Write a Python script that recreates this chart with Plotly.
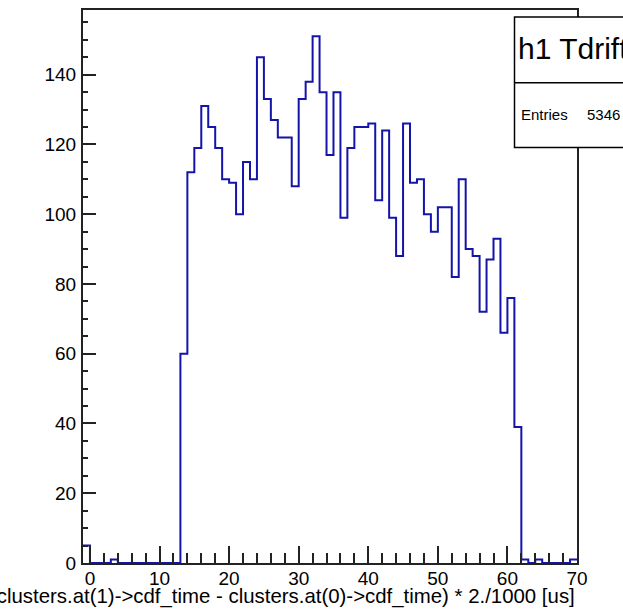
import plotly.graph_objects as go

# Histogram "h1 Tdrift": 71 bins of width 1 from -1 to 70 [us]
bin_low_edge = -1
bin_width = 1
counts = [
    5,                                   # [-1, 0)
    0, 0, 0, 1, 0, 0, 0, 0, 0, 0, 0, 0, 0,   # 0 .. 12
    60, 112, 119, 131, 125, 119, 110, 109, 100, 115,   # 13 .. 22
    110, 145, 133, 127, 122, 122, 108, 133, 138, 151,  # 23 .. 32
    135, 117, 135, 99, 119, 125, 125, 126, 104, 124,   # 33 .. 42
    99, 88, 126, 109, 110, 100, 95, 102, 102, 82,      # 43 .. 52
    110, 90, 88, 72, 87, 93, 66, 76, 39, 1,            # 53 .. 62
    0, 1, 0, 0, 0, 0, 1,                               # 63 .. 69
]
n_entries = 5346
hist_title = "h1 Tdrift"
x_title = "(clusters.at(1)->cdf_time - clusters.at(0)->cdf_time) * 2./1000 [us]"

# step outline: one point per bin left edge, plus the closing right edge
edges = [bin_low_edge + i * bin_width for i in range(len(counts) + 1)]
xs = edges
ys = counts + [counts[-1]]

x_max = edges[-1]
y_max = max(counts) * 1.05

W, H = 623, 610
ML, MR, MT, MB = 83, 46, 8, 47
PW, PH = W - ML - MR, H - MT - MB


def px_x(px):
    return (px - ML) / PW


def px_y(py):
    return (H - MB - py) / PH


FONT = "Liberation Sans, Arial, Helvetica, sans-serif"

fig = go.Figure()
fig.add_trace(go.Scatter(
    x=xs, y=ys, mode="lines", line_shape="hv",
    line=dict(color="#1414a8", width=2),
    hoverinfo="skip", showlegend=False,
))

fig.update_layout(
    width=W, height=H,
    margin=dict(l=ML, r=MR, t=MT, b=MB, pad=0),
    paper_bgcolor="white", plot_bgcolor="white",
    font=dict(family=FONT, size=19, color="black"),
    xaxis=dict(
        range=[edges[0], x_max], showgrid=False, zeroline=False,
        showline=True, linecolor="#222", linewidth=2, mirror=True,
        ticks="inside", ticklen=17, tickwidth=1.5, tickcolor="#222",
        tick0=0, dtick=10,
        minor=dict(ticks="inside", ticklen=10, tickwidth=1.5,
                   tickcolor="#222", dtick=2, tick0=0, showgrid=False),
        tickfont=dict(family=FONT, size=19, color="black"),
        ticklabelstandoff=-3,
    ),
    yaxis=dict(
        range=[0, y_max], showgrid=False, zeroline=False,
        showline=True, linecolor="#222", linewidth=2, mirror=True,
        ticks="inside", ticklen=13, tickwidth=1.5, tickcolor="#222",
        tick0=0, dtick=20,
        minor=dict(ticks="inside", ticklen=5, tickwidth=1.5,
                   tickcolor="#222", dtick=5, tick0=0, showgrid=False),
        tickfont=dict(family=FONT, size=19, color="black"),
        ticklabelstandoff=1,
    ),
)

# x-axis title, right-aligned at the end of the axis
fig.add_annotation(
    text=x_title, xref="paper", yref="paper",
    x=1.0, y=px_y(596.5), xanchor="right", yanchor="middle",
    showarrow=False, font=dict(family=FONT, size=20.4, color="black"),
)

# statistics box
box_x0, box_x1 = px_x(514.5), px_x(680)
fig.add_shape(type="rect", xref="paper", yref="paper",
              x0=box_x0, x1=box_x1, y0=px_y(146), y1=px_y(15),
              line=dict(color="black", width=1.5), fillcolor="white",
              layer="above")
fig.add_shape(type="line", xref="paper", yref="paper",
              x0=box_x0, x1=box_x1, y0=px_y(81), y1=px_y(81),
              line=dict(color="black", width=1.5), layer="above")
fig.add_annotation(
    text=hist_title, xref="paper", yref="paper",
    x=px_x(516), y=px_y(47), xanchor="left", yanchor="middle",
    showarrow=False, font=dict(family=FONT, size=30, color="black"),
)
fig.add_annotation(
    text="Entries", xref="paper", yref="paper",
    x=px_x(519), y=px_y(113), xanchor="left", yanchor="middle",
    showarrow=False, font=dict(family=FONT, size=15, color="black"),
)
fig.add_annotation(
    text=str(n_entries), xref="paper", yref="paper",
    x=px_x(585), y=px_y(113), xanchor="left", yanchor="middle",
    showarrow=False, font=dict(family=FONT, size=15, color="black"),
)

fig.write_html("out.html")
